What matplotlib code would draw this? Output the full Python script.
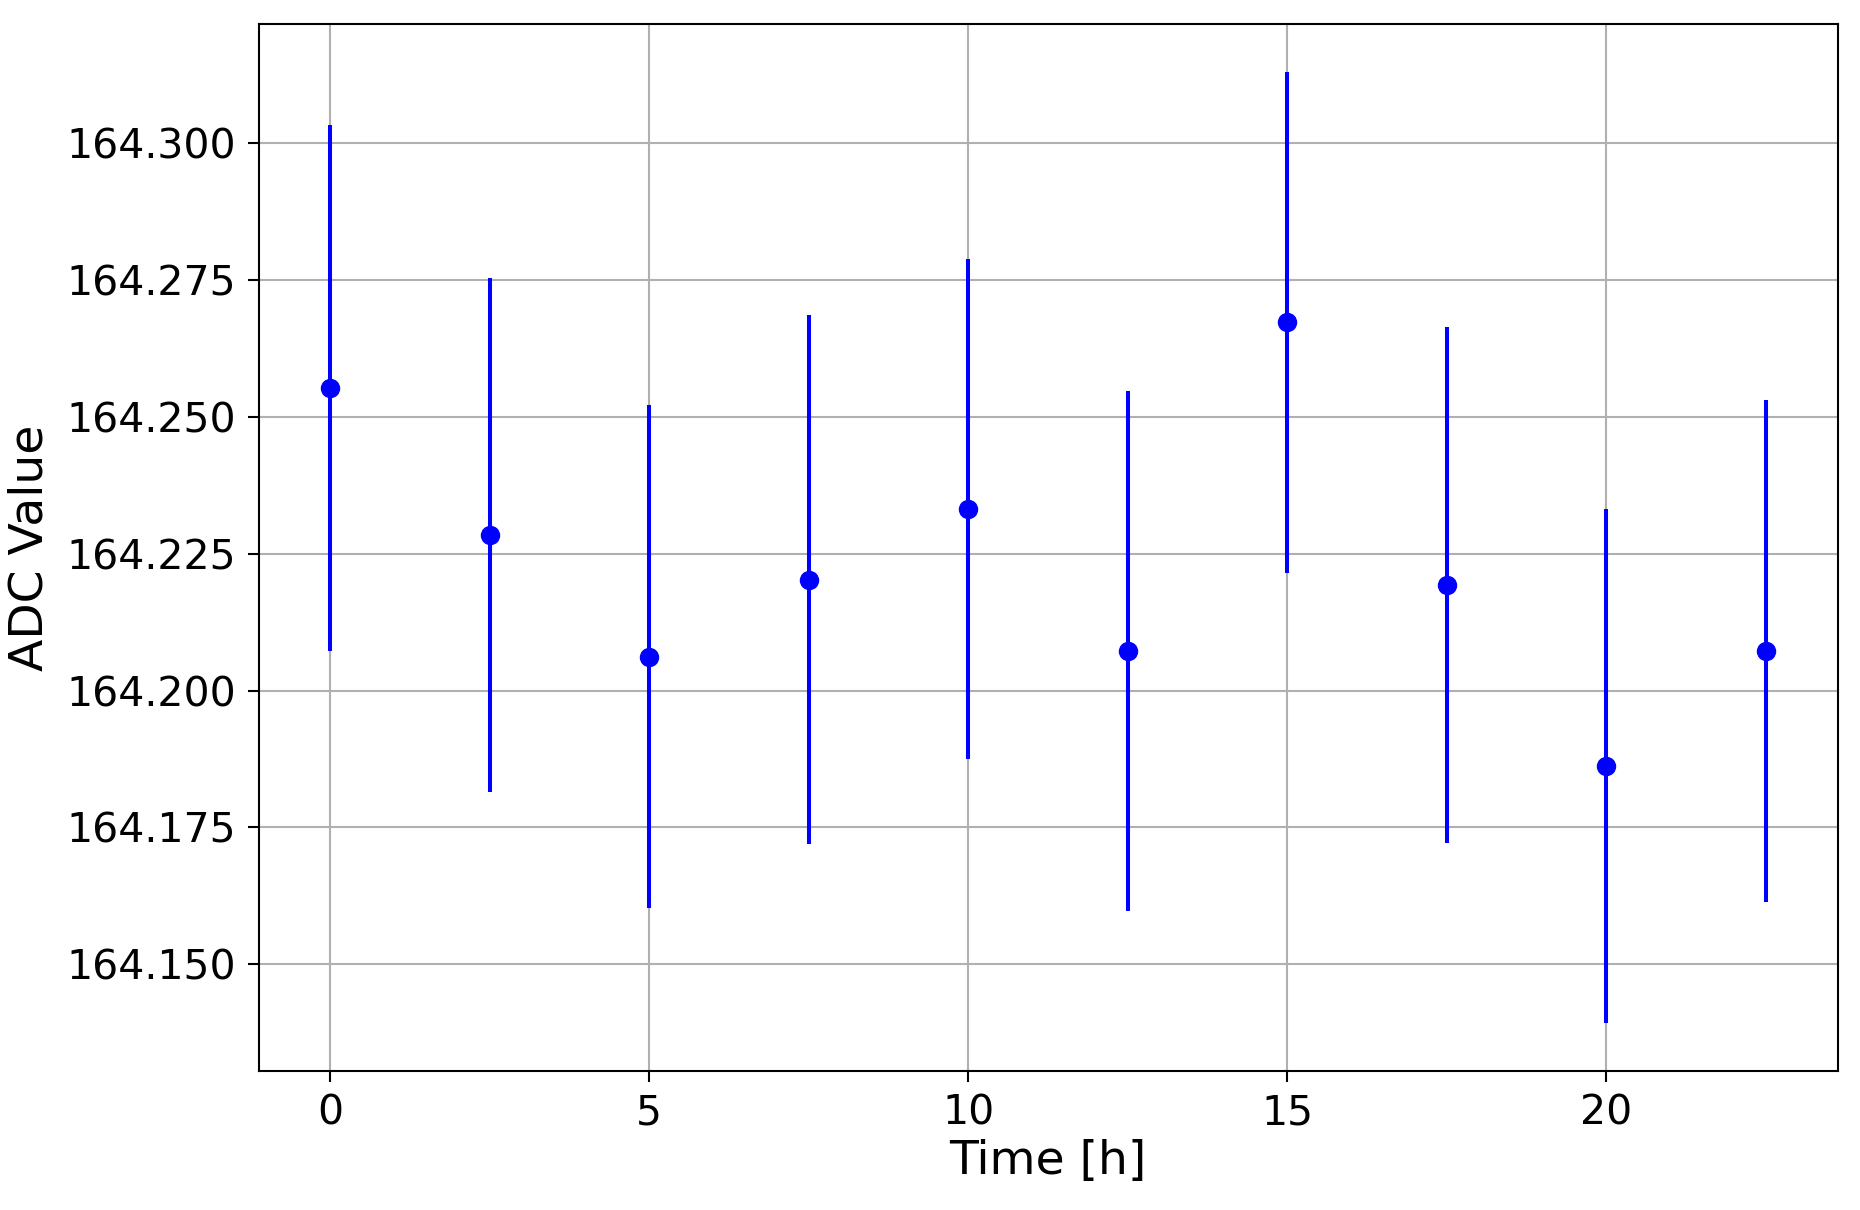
import matplotlib
matplotlib.use("Agg")
import matplotlib.pyplot as plt
from matplotlib.ticker import StrMethodFormatter

# hours since start
time_h = [0, 2.5, 5, 7.5, 10, 12.5, 15, 17.5, 20, 22.5]
adc_mean = [164.2553, 164.2284, 164.2062, 164.2203, 164.2332,
            164.2073, 164.2673, 164.2193, 164.1862, 164.2072]
adc_err = [0.0481, 0.0470, 0.0460, 0.0484, 0.0457,
           0.0475, 0.0458, 0.0472, 0.0470, 0.0459]

fig, ax = plt.subplots(figsize=(18.6, 12.1), dpi=100)
fig.subplots_adjust(left=0.139, right=0.988, top=0.980, bottom=0.115)

ax.errorbar(time_h, adc_mean, yerr=adc_err, fmt="o", color="blue",
            ecolor="blue", elinewidth=2.9, markersize=13, capsize=0)

ax.grid(True, color="#b0b0b0", linewidth=1.5)
ax.set_axisbelow(True)
ax.yaxis.set_major_formatter(StrMethodFormatter("{x:.3f}"))

ax.set_xlabel("Time [h]", fontsize=34, labelpad=4)
ax.set_ylabel("ADC Value", fontsize=34, labelpad=10)
ax.tick_params(labelsize=29.5, length=8, width=1.5, pad=8)
for spine in ax.spines.values():
    spine.set_linewidth(1.5)

fig.savefig("out.png", dpi=100)
